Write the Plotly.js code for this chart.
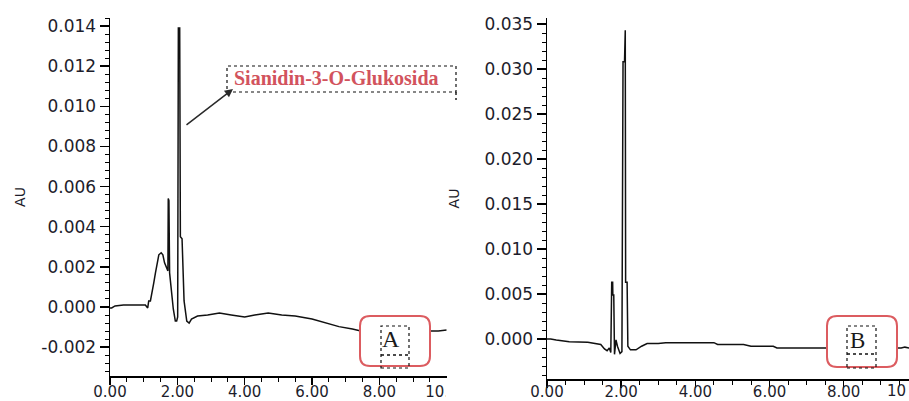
<!DOCTYPE html>
<html>
<head>
<meta charset="utf-8">
<script src="https://cdn.plot.ly/plotly-3.0.1.min.js"></script>
<style>html,body{margin:0;padding:0;background:#fff;overflow:hidden}</style>
</head>
<body>
<div id="chart" style="width:909px;height:401px"></div>
<script>
// Chromatogram A (retention time in min, absorbance in AU)
const timeA = [0.00,0.05,0.15,0.40,0.80,1.05,1.12,1.15,1.20,1.25,1.30,1.35,1.40,1.45,1.52,1.57,1.62,1.68,1.72,1.73,1.75,1.77,1.82,1.88,1.94,1.98,2.01,2.03,2.07,2.09,2.14,2.20,2.28,2.35,2.42,2.60,2.90,3.25,3.60,4.00,4.30,4.70,5.10,5.50,6.00,6.40,6.80,7.20,7.45,8.00,9.00,9.50,9.75,10.00];
const absA  = [-0.00005,-0.00005,0.00005,0.0001,0.0001,0.0001,-0.00005,0.0003,0.0003,0.0007,0.0012,0.0017,0.0022,0.0026,0.0027,0.0026,0.0022,0.0019,0.0018,0.0054,0.0053,0.0017,0.0008,-0.0001,-0.0007,-0.0007,-0.0005,0.0139,0.0139,0.0035,0.0034,0.0003,-0.0007,-0.0008,-0.0006,-0.00045,-0.0004,-0.0003,-0.0004,-0.0005,-0.0004,-0.0003,-0.0004,-0.00045,-0.0006,-0.0008,-0.00098,-0.0011,-0.0012,-0.0012,-0.00122,-0.00123,-0.0012,-0.00115];

// Chromatogram B
const timeB = [0.00,0.10,0.25,0.60,1.10,1.45,1.55,1.62,1.68,1.72,1.745,1.77,1.775,1.80,1.82,1.86,1.90,1.97,2.02,2.05,2.09,2.10,2.11,2.12,2.16,2.18,2.25,2.40,2.55,2.70,3.00,3.20,3.50,4.50,4.60,5.30,5.50,6.10,6.20,7.60,9.00,9.55,9.65,9.78];
const absB  = [0.0,0.0,-0.0001,-0.0003,-0.00035,-0.0006,-0.0011,-0.0013,-0.001,-0.0015,0.0063,0.0063,0.0049,0.0049,-0.0017,-0.0001,-0.0008,-0.0016,-0.0014,0.0308,0.0308,0.0343,0.0343,0.0063,0.0063,-0.0008,-0.0012,-0.0012,-0.0008,-0.0005,-0.0005,-0.0004,-0.0004,-0.0004,-0.0006,-0.0006,-0.0008,-0.0008,-0.001,-0.001,-0.001,-0.001,-0.0009,-0.001];

// Tick labels
const xTickVals = [0,2,4,6,8,10];
const xTickText = ["0.00","2.00","4.00","6.00","8.00","10.00"];
const xEdgeLabel = "10";
const yTickValsA = [-0.002,0,0.002,0.004,0.006,0.008,0.010,0.012,0.014];
const yTickTextA = ["-0.002","0.000","0.002","0.004","0.006","0.008","0.010","0.012","0.014"];
const yTickValsB = [0,0.005,0.010,0.015,0.020,0.025,0.030,0.035];
const yTickTextB = ["0.000","0.005","0.010","0.015","0.020","0.025","0.030","0.035"];
const peakLabel = "Sianidin-3-O-Glukosida";
const panelLabels = ["A","B"];
const yTitle = "AU";

const W = 909, H = 401;
const px = v => v / W;
const py = v => 1 - v / H;

const xTickFont = {family: "DejaVu Sans", size: 15, color: "#1d1d2b"};
const yTickFont = {family: "DejaVu Sans", size: 17, color: "#1d1d2b"};

function xAxis(domain, range, anchor, labelShift) {
  return {
    domain: domain, range: range, anchor: anchor,
    showline: true, linecolor: "#000", linewidth: 1.5,
    ticks: "outside", ticklen: 7, tickwidth: 1.5, tickcolor: "#000",
    ticklabelstandoff: labelShift,
    tickmode: "array", tickvals: xTickVals, ticktext: xTickText,
    tickfont: xTickFont,
    minor: {tickmode: "linear", tick0: 0, dtick: 0.5, ticks: "outside", ticklen: 4, tickwidth: 1, tickcolor: "#000"},
    showgrid: false, zeroline: false, fixedrange: true
  };
}
function yAxis(domain, range, anchor, vals, text, minorStep, standoff) {
  return {
    domain: domain, range: range, anchor: anchor,
    showline: true, linecolor: "#000", linewidth: 1.5,
    ticks: "outside", ticklen: 9, tickwidth: 1.5, tickcolor: "#000",
    tickmode: "array", tickvals: vals, ticktext: text,
    tickfont: yTickFont,
    minor: {tickmode: "linear", tick0: 0, dtick: minorStep, ticks: "outside", ticklen: 4, tickwidth: 1, tickcolor: "#000"},
    title: {text: yTitle, font: {family: "DejaVu Sans", size: 14, color: "#1d1d2b"}, standoff: standoff},
    showgrid: false, zeroline: false, fixedrange: true
  };
}

function roundRect(x0, y0, x1, y1, r) {
  const p = (x, y) => px(x) + "," + py(y);
  return "M" + p(x0 + r, y0) + " L" + p(x1 - r, y0) + " Q" + p(x1, y0) + " " + p(x1, y0 + r) +
         " L" + p(x1, y1 - r) + " Q" + p(x1, y1) + " " + p(x1 - r, y1) +
         " L" + p(x0 + r, y1) + " Q" + p(x0, y1) + " " + p(x0, y1 - r) +
         " L" + p(x0, y0 + r) + " Q" + p(x0, y0) + " " + p(x0 + r, y0) + " Z";
}
function dotRect(x0, y0, x1, y1) {
  return {type: "rect", xref: "paper", yref: "paper", x0: px(x0), x1: px(x1), y0: py(y1), y1: py(y0),
          line: {color: "#111", width: 1.2, dash: "dot"}, fillcolor: "rgba(0,0,0,0)", layer: "above"};
}
function dotLine(x0, y0, x1, y1) {
  return {type: "line", xref: "paper", yref: "paper", x0: px(x0), x1: px(x1), y0: py(y0), y1: py(y1),
          line: {color: "#111", width: 1.4, dash: "dot"}, layer: "above"};
}

const data = [
  {x: timeA, y: absA, xaxis: "x", yaxis: "y", type: "scatter", mode: "lines",
   line: {color: "#111", width: 1.5}, hoverinfo: "skip"},
  {x: timeB, y: absB, xaxis: "x2", yaxis: "y2", type: "scatter", mode: "lines",
   line: {color: "#111", width: 1.5}, hoverinfo: "skip"}
];

const layout = {
  width: W, height: H,
  margin: {l: 0, r: 0, t: 0, b: 0},
  paper_bgcolor: "#fff", plot_bgcolor: "#fff",
  showlegend: false,
  xaxis: xAxis([px(110), px(446.7)], [0, 10], "y", -6),
  yaxis: yAxis([py(376), py(18)], [-0.00344, 0.0144], "x", yTickValsA, yTickTextA, 0.0004, 12),
  xaxis2: xAxis([px(547), 1], [0, 9.76], "y2", -9),
  yaxis2: yAxis([py(379), py(18)], [-0.00444, 0.03567], "x2", yTickValsB, yTickTextB, 0.001, 21),
  shapes: [
    // crop the left panel's last tick label
    {type: "rect", xref: "paper", yref: "paper", x0: px(445.5), x1: px(470), y0: 0, y1: py(378),
     fillcolor: "#fff", line: {width: 0}, layer: "above"},
    // rounded label boxes
    {type: "path", xref: "paper", yref: "paper", path: roundRect(360, 316, 430, 366, 10),
     fillcolor: "#fff", line: {color: "#dc5c60", width: 2}, layer: "above"},
    {type: "path", xref: "paper", yref: "paper", path: roundRect(827, 316, 897, 367, 10),
     fillcolor: "#fff", line: {color: "#dc5c60", width: 2}, layer: "above"},
    dotRect(381, 326, 409, 368), dotLine(381, 355, 409, 355),
    dotRect(847, 326, 876, 368), dotLine(847, 354, 876, 354),
    // peak label frame
    dotRect(227, 66, 456, 92), dotLine(456, 92, 456, 100)
  ],
  annotations: [
    {xref: "paper", yref: "paper", x: px(336.5), y: py(78), xanchor: "center", yanchor: "middle",
     text: "<b>" + peakLabel + "</b>", showarrow: false,
     font: {family: "Liberation Serif", size: 20, color: "#d2535d"}},
    {xref: "paper", yref: "paper", x: px(233), y: py(89), text: "", showarrow: true,
     ax: -48, ay: 37, arrowhead: 2, arrowsize: 1.1, arrowwidth: 1.5, arrowcolor: "#2a2a2a", standoff: 0},
    {xref: "paper", yref: "paper", x: px(391), y: py(339), xanchor: "center", yanchor: "middle",
     text: panelLabels[0], showarrow: false,
     font: {family: "Liberation Serif", size: 24, color: "#1a1a1a"}},
    {xref: "paper", yref: "paper", x: px(857), y: py(340), xanchor: "center", yanchor: "middle",
     text: panelLabels[1], showarrow: false,
     font: {family: "Liberation Serif", size: 23, color: "#1a1a1a"}},
    {xref: "paper", yref: "paper", x: px(908), y: py(391), xanchor: "right", yanchor: "middle",
     text: xEdgeLabel, showarrow: false, font: xTickFont}
  ]
};

Plotly.newPlot("chart", data, layout, {staticPlot: true, displayModeBar: false});
</script>
</body>
</html>
